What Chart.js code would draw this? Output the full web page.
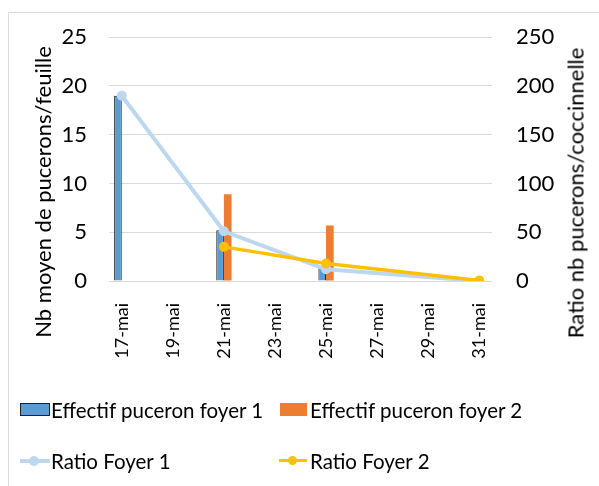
<!DOCTYPE html>
<html>
<head>
<meta charset="utf-8">
<script src="https://cdn.jsdelivr.net/npm/chart.js@4.4.1/dist/chart.umd.min.js"></script>
<style>
  body { margin: 0; background: #fff; font-family: Lato, sans-serif; color: #000; }
  #wrap { position: relative; width: 599px; height: 486px; overflow: hidden; }
  #frame { position: absolute; left: 8px; top: 12px; width: 700px; height: 600px;
           border-left: 1px solid #d9d9d9; border-top: 1px solid #d9d9d9; }
  #box { position: absolute; left: 0; top: 0; width: 599px; height: 370px; }
  .ytitle { position: absolute; white-space: nowrap; font-size: 22px;
            transform: translate(-50%, -50%) rotate(-90deg); }
  .leg { position: absolute; font-size: 20.5px; white-space: nowrap; line-height: 24px; }
  .sym { position: absolute; }
</style>
</head>
<body>
<div id="wrap">
  <div id="frame"></div>
  <div id="box"><canvas id="myChart"></canvas></div>
  <div class="ytitle" style="left:42px; top:192px;">Nb moyen de pucerons/feuille</div>
  <div class="ytitle" style="left:575px; top:193px;">Ratio nb pucerons/coccinnelle</div>

  <div class="sym" style="left:20px; top:403px; width:28px; height:11px; background:#5b9bd5; border:1px solid #222;"></div>
  <div class="leg" style="left:51px; top:398px;">Effectif puceron foyer 1</div>
  <div class="sym" style="left:280px; top:403px; width:27px; height:13px; background:#ed7d31;"></div>
  <div class="leg" style="left:310px; top:398px;">Effectif puceron foyer 2</div>

  <div class="sym" style="left:20px; top:459px; width:30px; height:4px; background:#bdd7ee;"></div>
  <div class="sym" style="left:29px; top:456px; width:10px; height:10px; border-radius:50%; background:#bdd7ee;"></div>
  <div class="leg" style="left:51px; top:449px;">Ratio Foyer 1</div>
  <div class="sym" style="left:279px; top:459px; width:28px; height:3px; background:#ffc000;"></div>
  <div class="sym" style="left:288px; top:456px; width:9px; height:9px; border-radius:50%; background:#ffc000;"></div>
  <div class="leg" style="left:310px; top:449px;">Ratio Foyer 2</div>
</div>
<script>
const dates = ['17-mai', '18-mai', '19-mai', '20-mai', '21-mai', '22-mai', '23-mai', '24-mai',
               '25-mai', '26-mai', '27-mai', '28-mai', '29-mai', '30-mai', '31-mai'];
const foyer1 = [19, null, null, null, 5.2, null, null, null, 1.3, null, null, null, null, null, null];
const foyer2 = [null, null, null, null, 8.9, null, null, null, 5.7, null, null, null, null, null, null];
const ratio1 = [190, null, null, null, 51, null, null, null, 12, null, null, null, null, null, 0];
const ratio2 = [null, null, null, null, 35, null, null, null, 18, null, null, null, null, null, 0.5];
const leftTicks = [0, 5, 10, 15, 20, 25];
const rightTicks = [0, 50, 100, 150, 200, 250];

const ctx = document.getElementById('myChart');

const myChart = new Chart(ctx, {
    type: 'bar',
    data: {
        labels: dates,
        datasets: [{
            type: 'line',
            label: 'Ratio Foyer 2',
            data: ratio2,
            yAxisID: 'y1',
            borderColor: '#ffc000',
            backgroundColor: '#ffc000',
            borderWidth: 3.5,
            pointRadius: 5,
            pointBorderWidth: 0,
            spanGaps: true,
            order: 0
        }, {
            type: 'line',
            label: 'Ratio Foyer 1',
            data: ratio1,
            yAxisID: 'y1',
            borderColor: '#bdd7ee',
            backgroundColor: '#bdd7ee',
            borderWidth: 4,
            pointRadius: 5,
            pointBorderWidth: 0,
            spanGaps: true,
            order: 1
        }, {
            label: 'Effectif puceron foyer 1',
            data: foyer1,
            yAxisID: 'y',
            backgroundColor: '#5b9bd5',
            borderColor: '#222',
            borderWidth: 1,
            order: 2
        }, {
            label: 'Effectif puceron foyer 2',
            data: foyer2,
            yAxisID: 'y',
            backgroundColor: '#ed7d31',
            order: 3
        }]
    },
    options: {
        responsive: true,
        maintainAspectRatio: false,
        animation: false,
        layout: { padding: { top: 37, left: 0, right: 0, bottom: 0 } },
        datasets: { bar: { categoryPercentage: 0.6, barPercentage: 1 } },
        plugins: { legend: { display: false }, tooltip: { enabled: false } },
        scales: {
            x: {
                grid: { display: false },
                border: { display: false },
                afterFit: function (scale) { scale.height = 89; },
                ticks: {
                    autoSkip: false,
                    maxRotation: 90,
                    minRotation: 90,
                    padding: 14,
                    color: '#000',
                    font: { family: 'Lato', size: 18 },
                    callback: function (v, i) { return i % 2 === 0 ? dates[i] : ''; }
                }
            },
            y: {
                position: 'left',
                min: 0,
                max: 25,
                afterBuildTicks: function (scale) { scale.ticks = leftTicks.map(v => ({ value: v })); },
                afterFit: function (scale) { scale.width = 109; },
                grid: { color: '#d9d9d9', lineWidth: 1, drawTicks: false },
                border: { display: false },
                ticks: { padding: 22, color: '#000', font: { family: 'Lato', size: 22 } }
            },
            y1: {
                position: 'right',
                min: 0,
                max: 250,
                afterBuildTicks: function (scale) { scale.ticks = rightTicks.map(v => ({ value: v })); },
                afterFit: function (scale) { scale.width = 107; },
                grid: { drawOnChartArea: false, drawTicks: false },
                border: { display: false },
                ticks: { padding: 24, color: '#000', font: { family: 'Lato', size: 22 } }
            }
        }
    }
});
</script>
</body>
</html>
